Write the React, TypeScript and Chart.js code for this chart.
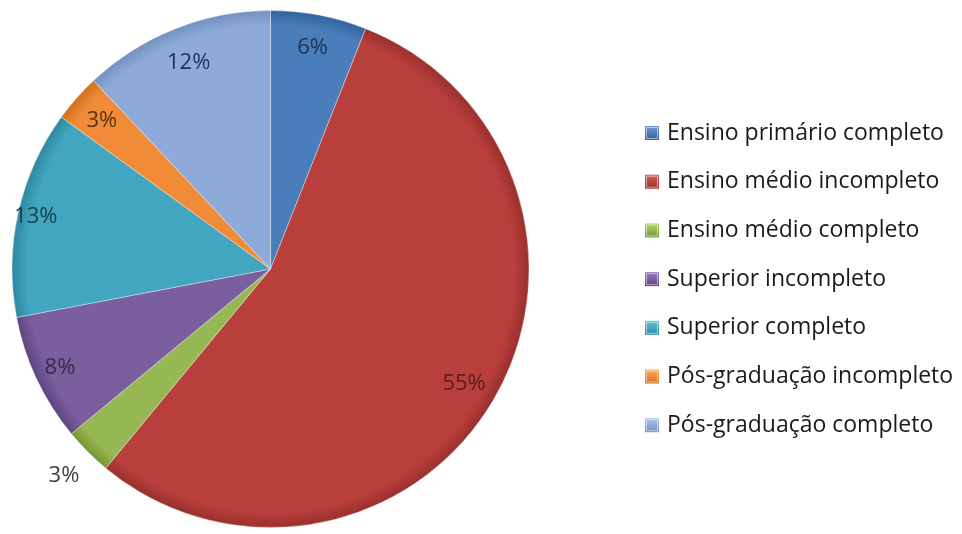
import React, { useEffect, useRef } from "react";
import { Chart, registerables } from "chart.js";

Chart.register(...registerables);

const categories = [
  "Ensino primário completo",
  "Ensino médio incompleto",
  "Ensino médio completo",
  "Superior incompleto",
  "Superior completo",
  "Pós-graduação incompleto",
  "Pós-graduação completo",
];
const values = [6, 55, 3, 8, 13, 3, 12];
const valueLabels = ["6%", "55%", "3%", "8%", "13%", "3%", "12%"];

const baseColors = ["#4a7ebb", "#b93f3c", "#96b852", "#7b5e9e", "#43a6c0", "#f08c38", "#8eaad8"];
const lightColors = ["#6f9bd6", "#d9605c", "#b3d46e", "#9a7cc0", "#62c5df", "#ffab5c", "#aac4ee"];
const darkColors = ["#32619c", "#982f2c", "#759536", "#5d4480", "#2d87a0", "#cf701d", "#7290c0"];
const textColors = ["#1b3358", "#5c1c1a", "#404040", "#3a2a50", "#173f4c", "#5a3010", "#1f3358"];
const labelRadius = [0.87, 0.87, 1.13, 0.9, 0.93, 0.87, 0.86];

const FONT = "'Open Sans', sans-serif";

export default function App() {
  const ref = useRef<HTMLCanvasElement | null>(null);

  useEffect(() => {
    const canvas = ref.current;
    if (!canvas) return;

    const labelPlugin = {
      id: "sliceLabels",
      afterDatasetsDraw(chart: any) {
        const ctx = chart.ctx;
        const meta = chart.getDatasetMeta(0);
        ctx.save();
        ctx.font = `22px ${FONT}`;
        ctx.textAlign = "center";
        ctx.textBaseline = "middle";
        meta.data.forEach((arc: any, i: number) => {
          const { x, y, startAngle, endAngle, outerRadius } = arc.getProps(
            ["x", "y", "startAngle", "endAngle", "outerRadius"],
            true
          );
          const mid = (startAngle + endAngle) / 2;
          const r = outerRadius * labelRadius[i];
          ctx.fillStyle = textColors[i];
          ctx.fillText(valueLabels[i], x + Math.cos(mid) * r, y + Math.sin(mid) * r);
        });
        // legend
        const lx = 645;
        const ly0 = 133;
        const step = 48.7;
        ctx.font = `23px ${FONT}`;
        ctx.textAlign = "left";
        categories.forEach((c, i) => {
          const cy = ly0 + i * step;
          const g = ctx.createLinearGradient(lx, cy - 7, lx, cy + 7);
          g.addColorStop(0, lightColors[i]);
          g.addColorStop(1, darkColors[i]);
          ctx.fillStyle = g;
          ctx.fillRect(lx, cy - 7, 14, 14);
          ctx.strokeStyle = "rgba(255,255,255,0.5)";
          ctx.lineWidth = 1;
          ctx.strokeRect(lx + 1.5, cy - 5.5, 11, 11);
          ctx.fillStyle = "#1a1a1a";
          ctx.fillText(c, 667, cy);
        });
        ctx.restore();
      },
    };

    const chart = new Chart(canvas, {
      type: "pie",
      data: {
        labels: categories,
        datasets: [
          {
            data: values,
            backgroundColor: (c: any) => {
              const i = c.dataIndex;
              const chartArea = c.chart.chartArea;
              if (!chartArea) return baseColors[i];
              const cx = (chartArea.left + chartArea.right) / 2;
              const cy = (chartArea.top + chartArea.bottom) / 2;
              const R = Math.min(chartArea.width, chartArea.height) / 2;
              const g = c.chart.ctx.createRadialGradient(cx, cy, 0, cx, cy, R);
              g.addColorStop(0, baseColors[i]);
              g.addColorStop(0.94, baseColors[i]);
              g.addColorStop(1, darkColors[i]);
              return g;
            },
            borderColor: "rgba(255,255,255,0.35)",
            borderWidth: 1,
          },
        ],
      },
      options: {
        responsive: false,
        animation: false,
        layout: { padding: { left: 11, top: 10, right: 432, bottom: 6 } },
        plugins: {
          legend: { display: false },
          tooltip: { enabled: false },
        },
      },
      plugins: [labelPlugin],
    });
    return () => chart.destroy();
  }, []);

  return (
    <div style={{ position: "fixed", left: 0, top: 0, width: 962, height: 534, background: "#fff" }}>
      <canvas ref={ref} width={962} height={534} style={{ width: 962, height: 534 }} />
    </div>
  );
}
